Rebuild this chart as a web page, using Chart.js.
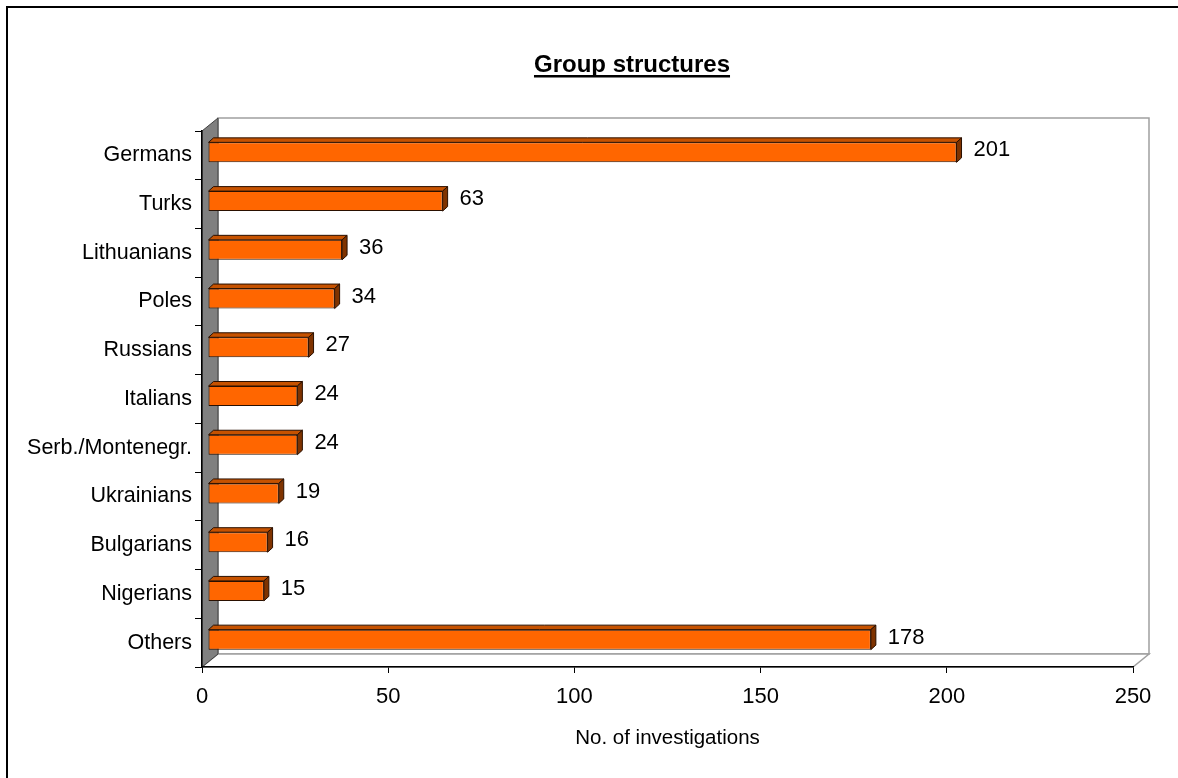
<!DOCTYPE html>
<html>
<head>
<meta charset="utf-8">
<title>Group structures</title>
<script src="https://cdn.jsdelivr.net/npm/chart.js@4.4.0/dist/chart.umd.min.js"></script>
<style>
html, body { margin: 0; padding: 0; background: #fff; }
#groupChart { display: block; }
</style>
</head>
<body>
<canvas id="groupChart" width="1178" height="778"></canvas>
<script>
const categories = ['Germans', 'Turks', 'Lithuanians', 'Poles', 'Russians', 'Italians',
    'Serb./Montenegr.', 'Ukrainians', 'Bulgarians', 'Nigerians', 'Others'];
const investigations = [201, 63, 36, 34, 27, 24, 24, 19, 16, 15, 178];
const x_ticks = [0, 50, 100, 150, 200, 250];

const chart_title = 'Group structures';
const x_title = 'No. of investigations';

const font_family = '"Liberation Sans", Arial, sans-serif';
const wall_depth = {x: 16, y: 13};     // back wall offset from the front plane
const bar_shift = {x: 6, y: -3};       // bars sit a bit inside the depth
const bar_depth = {x: 5, y: 4.5};

// walls + floor of the 3d look and the title, drawn before the scales
const walls_plugin = {
    id: 'walls',
    beforeDraw(chart) {
        const ctx = chart.ctx;
        const a = chart.chartArea;
        const dx = wall_depth.x, dy = wall_depth.y;
        ctx.save();
        // outer frame (only top and left show in the picture)
        ctx.strokeStyle = '#000';
        ctx.lineWidth = 2;
        ctx.beginPath();
        ctx.moveTo(7, chart.height);
        ctx.lineTo(7, 7);
        ctx.lineTo(chart.width, 7);
        ctx.stroke();

        // back wall
        ctx.fillStyle = '#fff';
        ctx.strokeStyle = '#a0a0a0';
        ctx.lineWidth = 1.5;
        ctx.beginPath();
        ctx.rect(a.left + dx, a.top - dy, a.right - a.left, a.bottom - a.top);
        ctx.fill();
        ctx.stroke();

        // floor
        ctx.beginPath();
        ctx.moveTo(a.left, a.bottom);
        ctx.lineTo(a.left + dx, a.bottom - dy);
        ctx.lineTo(a.right + dx, a.bottom - dy);
        ctx.lineTo(a.right, a.bottom);
        ctx.closePath();
        ctx.fill();
        ctx.stroke();

        // left wall
        ctx.fillStyle = '#808080';
        ctx.strokeStyle = '#404040';
        ctx.lineWidth = 1;
        ctx.beginPath();
        ctx.moveTo(a.left, a.top);
        ctx.lineTo(a.left + dx, a.top - dy);
        ctx.lineTo(a.left + dx, a.bottom - dy);
        ctx.lineTo(a.left, a.bottom);
        ctx.closePath();
        ctx.fill();
        ctx.stroke();

        // title, underlined
        ctx.font = 'bold 24px ' + font_family;
        ctx.fillStyle = '#000';
        ctx.textAlign = 'center';
        ctx.textBaseline = 'alphabetic';
        ctx.fillText(chart_title, 632, 72);
        const w = ctx.measureText(chart_title).width;
        ctx.fillRect(632 - w / 2, 75, w, 2.5);
        ctx.restore();
    }
};

// shift the bars into the depth, add top/side faces and the value labels
const bars3d_plugin = {
    id: 'bars3d',
    beforeDatasetsDraw(chart) {
        chart.ctx.save();
        chart.ctx.translate(bar_shift.x, bar_shift.y);
    },
    afterDatasetsDraw(chart) {
        const ctx = chart.ctx;
        const meta = chart.getDatasetMeta(0);
        const dx = bar_depth.x, dy = bar_depth.y;
        ctx.lineWidth = 1;
        ctx.strokeStyle = '#2a1000';
        meta.data.forEach(function(bar, i) {
            const p = bar.getProps(['x', 'y', 'base', 'height'], true);
            const top = p.y - p.height / 2;
            const bottom = p.y + p.height / 2;
            // top face
            ctx.fillStyle = '#c65200';
            ctx.beginPath();
            ctx.moveTo(p.base, top);
            ctx.lineTo(p.base + dx, top - dy);
            ctx.lineTo(p.x + dx, top - dy);
            ctx.lineTo(p.x, top);
            ctx.closePath();
            ctx.fill();
            ctx.stroke();
            // side face
            ctx.fillStyle = '#7f3300';
            ctx.beginPath();
            ctx.moveTo(p.x, top);
            ctx.lineTo(p.x + dx, top - dy);
            ctx.lineTo(p.x + dx, bottom - dy);
            ctx.lineTo(p.x, bottom);
            ctx.closePath();
            ctx.fill();
            ctx.stroke();
            // value label
            ctx.fillStyle = '#000';
            ctx.font = '22px ' + font_family;
            ctx.textAlign = 'left';
            ctx.textBaseline = 'middle';
            ctx.fillText(String(investigations[i]), p.x + 17, p.y - 2);
        });
        ctx.restore();
    }
};

const ctx = document.getElementById('groupChart').getContext('2d');
const group_chart = new Chart(ctx, {
    type: 'bar',
    data: {
        labels: categories,
        datasets: [{
            label: 'Investigations',
            data: investigations,
            backgroundColor: '#ff6600',
            borderColor: '#2a1000',
            borderWidth: 1,
            borderSkipped: false,
            categoryPercentage: 1,
            barPercentage: 0.41
        }]
    },
    options: {
        indexAxis: 'y',
        responsive: false,
        animation: false,
        devicePixelRatio: 1,
        layout: {
            padding: {top: 131, left: 0, right: 45, bottom: 0}
        },
        plugins: {
            legend: {display: false},
            tooltip: {enabled: false},
            title: {display: false}
        },
        scales: {
            x: {
                min: 0,
                max: 250,
                afterBuildTicks(scale) {
                    scale.ticks = x_ticks.map(v => ({value: v}));
                },
                afterFit(scale) {
                    scale.height = 111;
                },
                grid: {
                    drawOnChartArea: false,
                    drawTicks: true,
                    tickLength: 6,
                    color: '#000'
                },
                border: {display: true, color: '#000', width: 1.5},
                ticks: {
                    color: '#000',
                    padding: 11,
                    maxRotation: 0,
                    font: {family: font_family, size: 22}
                },
                title: {
                    display: true,
                    text: x_title,
                    color: '#000',
                    font: {family: font_family, size: 20.5},
                    padding: {top: 0, bottom: 27}
                }
            },
            y: {
                afterFit(scale) {
                    scale.width = 202;
                },
                grid: {
                    drawOnChartArea: false,
                    drawTicks: true,
                    tickLength: 7,
                    offset: true,
                    color: '#000'
                },
                border: {display: true, color: '#000', width: 1.5},
                ticks: {
                    color: '#000',
                    padding: 3,
                    font: {family: font_family, size: 21.5}
                }
            }
        }
    },
    plugins: [walls_plugin, bars3d_plugin]
});
</script>
</body>
</html>
